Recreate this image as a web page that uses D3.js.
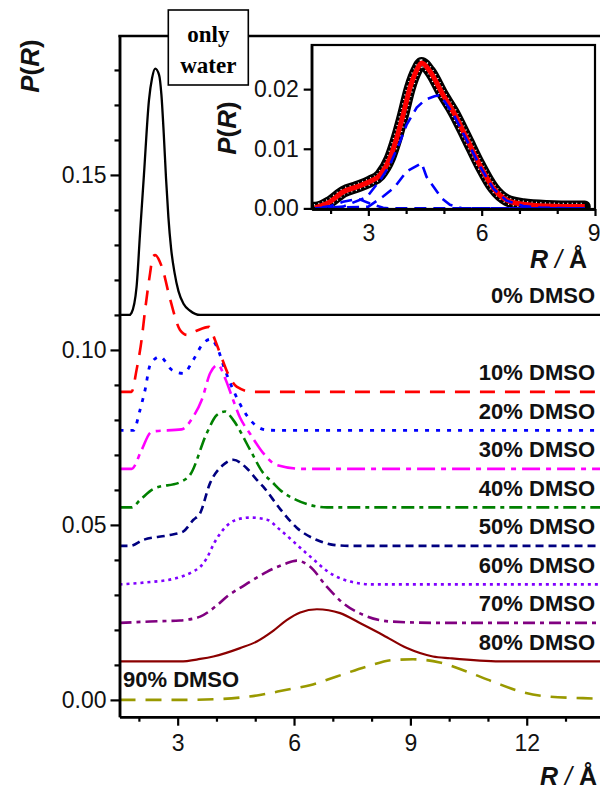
<!DOCTYPE html>
<html><head><meta charset="utf-8">
<script src="https://cdn.jsdelivr.net/npm/d3@7"></script>
<style>
html,body{margin:0;padding:0;background:#fff;}
svg{display:block;font-family:"Liberation Sans",Arial,sans-serif;}
</style></head><body>
<svg id="chart" width="600" height="795"></svg>
<script>
// ---------- DATA ----------
const seriesNames = ["0% DMSO","10% DMSO","20% DMSO","30% DMSO","40% DMSO","50% DMSO","60% DMSO","70% DMSO","80% DMSO","90% DMSO"];
const seriesOffsets = [0.110, 0.088, 0.077, 0.066, 0.055, 0.044, 0.033, 0.022, 0.011, 0.000];

const r0  = [1.50, 1.75, 1.81, 1.94, 2.03, 2.13, 2.26, 2.34, 2.42, 2.52, 2.58, 2.64, 2.70, 2.76, 2.83, 2.92, 3.02, 3.15, 3.32, 3.58, 14.0];
const p0  = [0, 0, 0.0006, 0.0080, 0.0234, 0.0400, 0.0614, 0.0677, 0.0704, 0.0686, 0.0630, 0.0520, 0.0390, 0.0280, 0.0190, 0.0120, 0.0068, 0.0032, 0.0012, 0, 0];
const r10 = [1.50, 1.81, 1.94, 2.07, 2.16, 2.29, 2.36, 2.42, 2.59, 2.81, 3.06, 3.24, 3.47, 3.81, 3.96, 4.09, 4.35, 4.52, 4.94, 14.0];
const p10 = [0, 0, 0.0063, 0.0149, 0.0234, 0.0340, 0.0387, 0.0391, 0.0358, 0.0263, 0.0177, 0.0163, 0.0174, 0.0186, 0.0149, 0.0111, 0.0040, 0.0015, 0, 0];
const r20 = [1.50, 1.86, 2.03, 2.16, 2.29, 2.54, 2.85, 3.15, 3.40, 3.66, 3.86, 4.01, 4.22, 4.43, 4.69, 4.91, 5.30, 5.72, 14.0];
const p20 = [0, 0, 0.0059, 0.0116, 0.0187, 0.0211, 0.0173, 0.0163, 0.0201, 0.0249, 0.0261, 0.0239, 0.0173, 0.0116, 0.0059, 0.0025, 0.0001, 0, 0];
const r30 = [1.50, 1.81, 2.07, 2.29, 2.36, 3.10, 3.40, 3.62, 3.84, 4.04, 4.22, 4.43, 4.61, 4.87, 5.20, 5.55, 6.23, 14.0];
const p30 = [0, 0, 0.0054, 0.0103, 0.0107, 0.0113, 0.0149, 0.0197, 0.0274, 0.0297, 0.0260, 0.0197, 0.0146, 0.0100, 0.0046, 0.0011, 0, 0];
const r40 = [1.50, 1.81, 2.03, 2.36, 3.10, 3.32, 3.75, 4.01, 4.22, 4.43, 4.87, 5.20, 5.46, 5.64, 6.07, 6.41, 6.85, 14.0];
const p40 = [0, 0, 0.0021, 0.0052, 0.0074, 0.0093, 0.0212, 0.0264, 0.0274, 0.0250, 0.0164, 0.0099, 0.0070, 0.0050, 0.0021, 0.0007, 0, 0];
const r50 = [1.50, 1.77, 2.11, 2.80, 3.14, 3.40, 3.58, 3.83, 4.17, 4.43, 4.78, 5.04, 5.20, 5.66, 6.07, 6.59, 7.01, 7.45, 14.0];
const p50 = [0, 0, 0.0017, 0.0031, 0.0041, 0.0074, 0.0094, 0.0178, 0.0231, 0.0246, 0.0222, 0.0189, 0.0170, 0.0103, 0.0052, 0.0017, 0.0003, 0, 0];
const r60 = [1.50, 2.11, 2.97, 3.40, 3.58, 3.75, 3.95, 4.17, 4.52, 4.87, 5.30, 5.64, 6.31, 7.01, 7.45, 8.04, 14.0];
const p60 = [0, 0.0005, 0.0018, 0.0037, 0.0050, 0.0075, 0.0120, 0.0156, 0.0185, 0.0191, 0.0185, 0.0156, 0.0090, 0.0027, 0.0008, 0, 0];
const r70 = [1.50, 2.29, 3.06, 3.58, 4.01, 4.30, 4.61, 4.87, 5.30, 5.75, 6.07, 6.41, 6.84, 7.26, 7.78, 8.48, 9.76, 14.0];
const p70 = [0, 0.0004, 0.0007, 0.0018, 0.0050, 0.0078, 0.0100, 0.0118, 0.0146, 0.0168, 0.0178, 0.0161, 0.0104, 0.0057, 0.0023, 0.0004, 0, 0];
const r80 = [1.50, 3.06, 3.58, 3.92, 4.61, 5.04, 5.47, 5.81, 6.16, 6.59, 7.19, 7.71, 8.30, 8.91, 9.58, 10.02, 11.31, 14.0];
const p80 = [0, 0, 0.0007, 0.0014, 0.0038, 0.0057, 0.0088, 0.0118, 0.0140, 0.0149, 0.0138, 0.0109, 0.0075, 0.0038, 0.0014, 0.0009, 0, 0];
const r90 = [1.50, 3.06, 4.01, 5.12, 5.81, 6.41, 7.10, 7.87, 8.55, 9.07, 9.76, 10.45, 11.13, 11.83, 12.60, 13.45, 14.0];
const p90 = [0, 0, 0.0002, 0.0014, 0.0029, 0.0042, 0.0067, 0.0095, 0.0114, 0.0116, 0.0107, 0.0081, 0.0052, 0.0024, 0.0009, 0.0005, 0.0003];

const seriesR = [r0, r10, r20, r30, r40, r50, r60, r70, r80, r90];
const seriesP = [p0, p10, p20, p30, p40, p50, p60, p70, p80, p90];

const xMajorTicks = [3, 6, 9, 12];
const xMinorTicks = [2, 4, 5, 7, 8, 10, 11, 13];
const yMajorTicks = [0.00, 0.05, 0.10, 0.15];
const yMinorTicks = [0.01, 0.02, 0.03, 0.04, 0.06, 0.07, 0.08, 0.09, 0.11, 0.12, 0.13, 0.14, 0.16, 0.17, 0.18];

// inset: only water
const insetR = [1.59, 1.98, 2.34, 2.69, 3.04, 3.31, 3.57, 3.75, 3.92, 4.10, 4.28, 4.41, 4.63, 4.98, 5.25, 5.60, 5.95, 6.31, 6.66, 7.10, 7.72, 8.51, 8.73];
const insetP = [0.0001, 0.0011, 0.0028, 0.0036, 0.0045, 0.0056, 0.0084, 0.0118, 0.0157, 0.0202, 0.0232, 0.0244, 0.0230, 0.0190, 0.0162, 0.0118, 0.0073, 0.0034, 0.0014, 0.0007, 0.0004, 0.0003, 0.0003];
const compBigR = [1.59, 2.33, 2.96, 3.35, 3.57, 3.84, 4.01, 4.28, 4.50, 4.75, 4.90, 5.25, 5.60, 5.95, 6.31, 6.66, 7.10, 7.60, 8.73];
const compBigP = [0, 0.0003, 0.0019, 0.0051, 0.0073, 0.0112, 0.0140, 0.0169, 0.0182, 0.0188, 0.0190, 0.0158, 0.0115, 0.0071, 0.0033, 0.0013, 0.0004, 0.0001, 0];
const compMidR = [1.59, 3.00, 3.39, 3.70, 4.01, 4.41, 4.54, 4.94, 5.16, 5.50, 8.73];
const compMidP = [0, 0.0003, 0.0020, 0.0036, 0.0062, 0.0076, 0.0053, 0.0017, 0.0006, 0, 0];
const compSmallR = [1.59, 2.00, 2.33, 2.73, 3.05, 3.39, 3.60, 8.73];
const compSmallP = [0, 0.0004, 0.0011, 0.0016, 0.0008, 0.0001, 0, 0];
const insetXMajor = [3, 6, 9];
const insetXMinor = [2, 4, 5, 7, 8];
const insetYMajor = [0.00, 0.01, 0.02];

// ---------- STYLES ----------
const seriesColors = ["#000000","#ff0000","#0000ff","#ff00ff","#008000","#000080","#8000ff","#800080","#8b0000","#999900"];
const seriesDash = [null,"15,10","4,7","18,6,5,6","13,5,4,5","8,5","3,4","12,5,4,5",null,"16,10"];
const seriesWidth = [2.3,2.6,2.8,2.6,2.6,2.6,2.6,2.6,2.2,2.6];

// ---------- CHART ----------
const svg = d3.select("#chart");
const x = d3.scaleLinear().domain([1.5, 14]).range([119.5, 604.3]);
const y = d3.scaleLinear().domain([-0.0048, 0.1897]).range([716.7, 36]);

svg.append("defs").append("clipPath").attr("id","plotclip")
  .append("rect").attr("x", x(1.5)).attr("y", y(0.1897)).attr("width", 600 - x(1.5)).attr("height", y(-0.0048) - y(0.1897));

const line = d3.line().x(d => x(d[0])).y(d => y(d[1])).curve(d3.curveMonotoneX);
const curves = svg.append("g").attr("clip-path","url(#plotclip)");
for (let i = seriesNames.length - 1; i >= 0; i--) {
  const pts = seriesR[i].map((r, k) => [r, seriesP[i][k] + seriesOffsets[i]]);
  curves.append("path").attr("d", line(pts)).attr("fill","none")
    .attr("stroke", seriesColors[i]).attr("stroke-width", seriesWidth[i])
    .attr("stroke-dasharray", seriesDash[i]);
}

// axes
function styleAxis(g, fs) {
  g.selectAll("path").attr("stroke","#000").attr("stroke-width",2.5);
  g.selectAll("line").attr("stroke","#000").attr("stroke-width",2.2);
  g.selectAll("text").attr("fill","#111").style("font-size", fs + "px").style("font-family","'Liberation Sans',Arial,sans-serif");
}
const gy = svg.append("g").attr("transform", `translate(${x(1.5)},0)`)
  .call(d3.axisLeft(y).tickValues(yMajorTicks).tickSize(9).tickSizeOuter(0).tickPadding(4).tickFormat(d3.format(".2f")));
styleAxis(gy, 23);
const gym = svg.append("g").attr("transform", `translate(${x(1.5)},0)`)
  .call(d3.axisLeft(y).tickValues(yMinorTicks).tickSize(5).tickSizeOuter(0).tickFormat(""));
styleAxis(gym, 23);
const gx = svg.append("g").attr("transform", `translate(0,${y(-0.0048)})`)
  .call(d3.axisBottom(x).tickValues(xMajorTicks).tickSize(9).tickSizeOuter(0).tickPadding(9).tickFormat(d3.format("d")));
styleAxis(gx, 23);
const gxm = svg.append("g").attr("transform", `translate(0,${y(-0.0048)})`)
  .call(d3.axisBottom(x).tickValues(xMinorTicks).tickSize(5).tickSizeOuter(0).tickFormat(""));
styleAxis(gxm, 23);
// top frame line
svg.append("line").attr("x1", x(1.5) - 1.2).attr("x2", 600).attr("y1", y(0.1897)).attr("y2", y(0.1897))
  .attr("stroke","#000").attr("stroke-width",2.5);

// series labels
seriesNames.forEach((name, i) => {
  const last = i === seriesNames.length - 1;
  svg.append("text").text(name)
    .attr("x", last ? 123 : 595)
    .attr("y", y(seriesOffsets[i]) - (last ? 12.5 : 11.5))
    .attr("text-anchor", last ? "start" : "end")
    .style("font-weight","bold").style("font-size","22px").attr("fill","#111");
});

// axis titles
function pr(sel) {
  sel.append("tspan").text("P").style("font-style","italic");
  sel.append("tspan").text("(");
  sel.append("tspan").text("R").style("font-style","italic");
  sel.append("tspan").text(")");
}
function ra(sel) {
  sel.append("tspan").text("R").style("font-style","italic").style("font-weight","bold");
  sel.append("tspan").text(" / ").style("font-style","italic").style("font-weight","normal");
  sel.append("tspan").text("Å").style("font-weight","bold");
}
svg.append("text").attr("transform","translate(39,66) rotate(-90)").attr("text-anchor","middle")
  .style("font-size","26px").style("font-weight","bold").attr("fill","#111").call(pr);
svg.append("text").attr("x",597).attr("y",785).attr("text-anchor","end")
  .style("font-size","25px").attr("fill","#111").call(ra);

// "only water" box
svg.append("rect").attr("x",168.3).attr("y",10).attr("width",80).attr("height",75)
  .attr("fill","#fff").attr("stroke","#000").attr("stroke-width",1.6);
svg.append("text").attr("x",208.3).attr("y",41.5).attr("text-anchor","middle").text("only")
  .style("font-family","'Liberation Serif','Times New Roman',serif").style("font-weight","bold").style("font-size","23px");
svg.append("text").attr("x",208.3).attr("y",72.5).attr("text-anchor","middle").text("water")
  .style("font-family","'Liberation Serif','Times New Roman',serif").style("font-weight","bold").style("font-size","23px");

// ---------- INSET ----------
const ix = d3.scaleLinear().domain([1.5, 9]).range([311.7, 595]);
const iy = d3.scaleLinear().domain([-0.0001, 0.0274]).range([209, 45]);
svg.append("rect").attr("x", ix(1.5)).attr("y", iy(0.0274)).attr("width", ix(9) - ix(1.5)).attr("height", iy(-0.0001) - iy(0.0274))
  .attr("fill","#fff").attr("stroke","none");
svg.append("defs").append("clipPath").attr("id","insetclip")
  .append("rect").attr("x", ix(1.5)).attr("y", iy(0.0274)).attr("width", ix(9) - ix(1.5)).attr("height", iy(-0.0001) - iy(0.0274));
const iline = d3.line().x(d => ix(d[0])).y(d => iy(d[1])).curve(d3.curveMonotoneX);
const ilin = d3.line().x(d => ix(d[0])).y(d => iy(d[1])).curve(d3.curveLinear);
const ig = svg.append("g").attr("clip-path","url(#insetclip)");
const mainPts = insetR.map((r, k) => [r, insetP[k]]);
ig.append("path").attr("d", iline([[1.5, insetP[0]]].concat(mainPts))).attr("fill","none").attr("stroke","#000").attr("stroke-width",12).attr("stroke-linecap","round").attr("stroke-linejoin","round");
ig.append("path").attr("d", iline(mainPts)).attr("fill","none").attr("stroke","#fff").attr("stroke-width",7.5).attr("stroke-dasharray","1,3.5");
ig.append("path").attr("d", iline(mainPts)).attr("fill","none").attr("stroke","#ff0000").attr("stroke-width",5).attr("stroke-linejoin","round");
[[compBigR, compBigP],[compMidR, compMidP],[compSmallR, compSmallP]].forEach(([rr, pp], j) => {
  ig.append("path").attr("d", ilin(rr.map((r, k) => [r, pp[k]]))).attr("fill","none")
    .attr("stroke","#0000ff").attr("stroke-width",2.6).attr("stroke-dasharray","12,7").attr("stroke-dashoffset", j * 6);
});
svg.append("rect").attr("x", ix(1.5)).attr("y", iy(0.0274)).attr("width", ix(9) - ix(1.5)).attr("height", iy(-0.0001) - iy(0.0274))
  .attr("fill","none").attr("stroke","#000").attr("stroke-width",2.2);

const igy = svg.append("g").attr("transform", `translate(${ix(1.5)},0)`)
  .call(d3.axisLeft(iy).tickValues(insetYMajor).tickSize(8).tickSizeOuter(0).tickPadding(5).tickFormat(d3.format(".2f")));
styleAxis(igy, 23);
const igx = svg.append("g").attr("transform", `translate(0,${iy(-0.0001)})`)
  .call(d3.axisBottom(ix).tickValues(insetXMajor).tickSize(7).tickSizeOuter(0).tickPadding(9).tickFormat(d3.format("d")));
styleAxis(igx, 23);
// keep the last inset tick label inside the window
igx.selectAll("text").filter(d => d === 9).attr("text-anchor","end").attr("x", 5);
const igxm = svg.append("g").attr("transform", `translate(0,${iy(-0.0001)})`)
  .call(d3.axisBottom(ix).tickValues(insetXMinor).tickSize(5).tickSizeOuter(0).tickFormat(""));
styleAxis(igxm, 23);
svg.append("text").attr("transform","translate(236,128) rotate(-90)").attr("text-anchor","middle")
  .style("font-size","26px").style("font-weight","bold").attr("fill","#111").call(pr);
svg.append("text").attr("x",587).attr("y",268).attr("text-anchor","end")
  .style("font-size","25px").attr("fill","#111").call(ra);
</script>
</body></html>
